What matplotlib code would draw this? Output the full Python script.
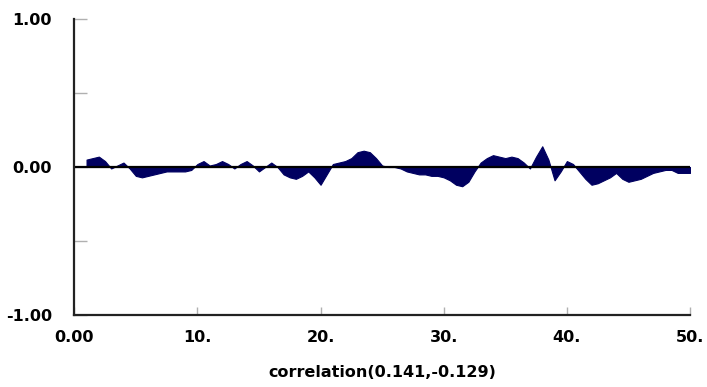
import matplotlib.pyplot as plt
import numpy as np

plt.rcParams['font.family'] = ['DejaVu Sans']

lags = np.arange(1.0, 50.01, 0.5)
corr = [
    0.05, 0.06, 0.07, 0.04, -0.01, 0.01, 0.03, -0.01, -0.06, -0.07,
    -0.06, -0.05, -0.04, -0.03, -0.03, -0.03, -0.03, -0.02, 0.02, 0.04,
    0.01, 0.02, 0.04, 0.02, -0.01, 0.02, 0.04, 0.01, -0.03, 0.00,
    0.03, 0.00, -0.05, -0.07, -0.08, -0.06, -0.03, -0.07, -0.12, -0.05,
    0.02, 0.03, 0.04, 0.06, 0.10, 0.11, 0.10, 0.06, 0.01, 0.00,
    0.00, -0.01, -0.03, -0.04, -0.05, -0.05, -0.06, -0.06, -0.07, -0.09,
    -0.12, -0.13, -0.10, -0.03, 0.03, 0.06, 0.08, 0.07, 0.06, 0.07,
    0.06, 0.03, -0.01, 0.07, 0.14, 0.05, -0.09, -0.03, 0.04, 0.02,
    -0.03, -0.08, -0.12, -0.11, -0.09, -0.07, -0.04, -0.08, -0.10, -0.09,
    -0.08, -0.06, -0.04, -0.03, -0.02, -0.02, -0.04, -0.04, -0.04,
]
xticks = [0, 10, 20, 30, 40, 50]
xtick_labels = ['0.00', '10.', '20.', '30.', '40.', '50.']
yticks = [-1.0, -0.5, 0.0, 0.5, 1.0]
ytick_labels = ['-1.00', '', '0.00', '', '1.00']
title = 'correlation(0.141,-0.129)'

fig = plt.figure(figsize=(7.07, 3.87), dpi=100)
ax = fig.add_axes([0.105, 0.186, 0.871, 0.765])

ax.fill_between(lags, 0, corr, color='#000060', linewidth=0.8, edgecolor='#000060')
ax.axhline(0, color='black', linewidth=1.6)

ax.set_xlim(0, 50)
ax.set_ylim(-1, 1)
ax.set_xticks(xticks)
ax.set_xticklabels(xtick_labels, fontsize=11.5, fontweight='bold')
ax.set_yticks(yticks)
ax.set_yticklabels(ytick_labels, fontsize=11.5, fontweight='bold')
ax.tick_params(axis='x', direction='in', length=6, color='#b0b0b0', width=1, pad=11)
ax.tick_params(axis='y', direction='in', length=9, color='#b0b0b0', width=1, pad=16)

for side in ('top', 'right'):
    ax.spines[side].set_visible(False)
for side in ('left', 'bottom'):
    ax.spines[side].set_linewidth(1.6)
    ax.spines[side].set_color('#222222')

ax.set_xlabel(title, fontsize=11.5, fontweight='bold', labelpad=14)

fig.savefig('out.png', dpi=100)
